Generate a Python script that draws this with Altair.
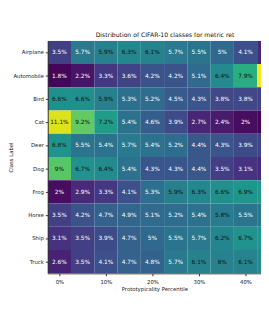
import altair as alt
import pandas as pd

classes = ["Airplane", "Automobile", "Bird", "Cat", "Deer", "Dog", "Frog", "Horse", "Ship", "Truck"]
percentiles = [0, 5, 10, 15, 20, 25, 30, 35, 40, 45]
x_ticks = [0, 10, 20, 30, 40]

values = [
    [3.5, 5.7, 5.9, 6.3, 6.1, 5.7, 5.5, 5.0, 4.1, 2.8],
    [1.8, 2.2, 3.3, 3.6, 4.2, 4.2, 5.1, 6.4, 7.9, 11.5],
    [6.6, 6.6, 5.9, 5.3, 5.2, 4.5, 4.3, 3.8, 3.8, 3.6],
    [11.1, 9.2, 7.2, 5.4, 4.6, 3.9, 2.7, 2.4, 2.0, 1.8],
    [6.8, 5.5, 5.4, 5.7, 5.4, 5.2, 4.4, 4.3, 3.9, 3.7],
    [9.0, 6.7, 6.4, 5.4, 4.3, 4.3, 4.4, 3.5, 3.1, 2.9],
    [2.0, 2.9, 3.3, 4.1, 5.3, 5.9, 6.3, 6.6, 6.9, 7.0],
    [3.5, 4.2, 4.7, 4.9, 5.1, 5.2, 5.4, 5.8, 5.5, 5.6],
    [3.1, 3.5, 3.9, 4.7, 5.0, 5.5, 5.7, 6.2, 6.7, 6.9],
    [2.6, 3.5, 4.1, 4.7, 4.8, 5.7, 6.1, 6.0, 6.1, 6.4],
]

rows = []
for ci, c in enumerate(classes):
    for pi, p in enumerate(percentiles):
        v = values[ci][pi]
        rows.append({"cls": c, "p": p, "x0": p - 2.5, "x1": p + 2.5,
                     "value": v, "label": f"{v:g}%"})
df = pd.DataFrame(rows)

font = "DejaVu Sans"
xscale = alt.Scale(domain=[-2.5, 43.33], nice=False, zero=False)
yenc = alt.Y("cls:N", sort=classes, scale=alt.Scale(paddingInner=0, paddingOuter=0),
             axis=alt.Axis(title="Class Label", labelFont=font, labelFontSize=5.5,
                           titleFont=font, titleFontSize=5.5, titleFontWeight="normal",
                           titleColor="#222", labelColor="#222", tickSize=2.5,
                           tickColor="#333", domainColor="#333", labelPadding=2,
                           titleX=-38, titleY=120, titleBaseline="middle",
                           titleAngle=270, titleAlign="center"))

rect = alt.Chart(df).mark_rect(clip=True).encode(
    x=alt.X("x0:Q", scale=xscale,
            axis=alt.Axis(title="Prototypicality Percentile", values=x_ticks,
                          labelExpr="datum.value + '%'", grid=False,
                          labelFont=font, labelFontSize=5.5, titleFont=font,
                          titleFontSize=5.5, titleFontWeight="normal",
                          titleColor="#222", labelColor="#222", tickSize=2.5,
                          tickColor="#333", domainColor="#333", labelPadding=4,
                          titlePadding=2)),
    x2="x1:Q",
    y=yenc,
    color=alt.Color("value:Q", scale=alt.Scale(scheme="viridis", domain=[1.7, 11.6]),
                    legend=None),
)

text = alt.Chart(df).transform_filter(alt.datum.p <= 40).mark_text(
    font=font, fontSize=6).encode(
    x=alt.X("p:Q", scale=xscale),
    y=alt.Y("cls:N", sort=classes),
    text="label:N",
    color=alt.condition(alt.datum.value > 5.75, alt.value("#111"), alt.value("white")),
)

chart = (rect + text).properties(
    width=220, height=240,
    title=alt.TitleParams("Distribution of CIFAR-10 classes for metric ret",
                          font=font, fontSize=6.3, fontWeight="normal", color="#111",
                          dx=11, offset=3),
    autosize=alt.AutoSizeParams(type="none"),
    padding={"left": 41, "top": 29, "right": 0, "bottom": 30},
).configure_view(stroke=None)

chart.save("out.html", embed_options={"renderer": "svg", "actions": False})
